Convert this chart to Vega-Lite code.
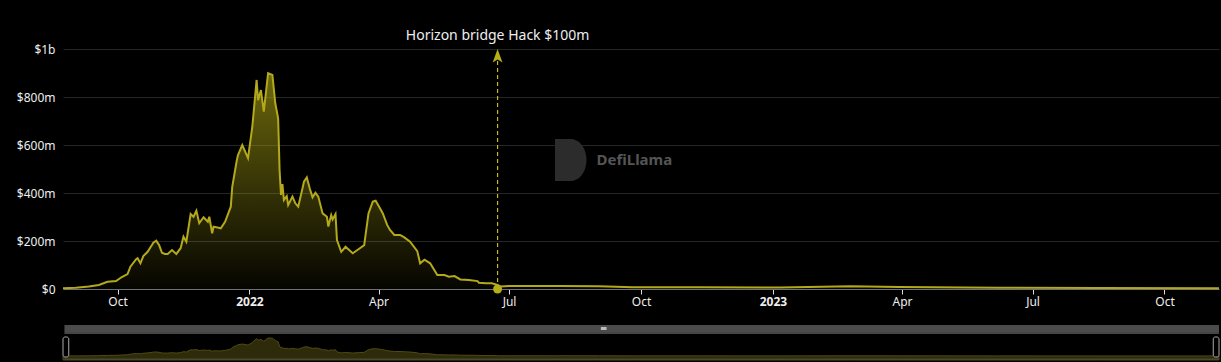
{
  "$schema": "https://vega.github.io/schema/vega-lite/v6.json",
  "autosize": {"type": "pad"},
  "padding": {"left": 16, "top": 29, "right": 2, "bottom": 2},
  "background": "#000000",
  "config": {"view": {"stroke": null}, "font": "Noto Sans"},
  "spacing": 36,
  "bounds": "flush",
  "datasets": {
    "tvl": [
      {"date": "2021-08-24", "tvl": 3},
      {"date": "2021-09-02", "tvl": 5},
      {"date": "2021-09-11", "tvl": 10},
      {"date": "2021-09-18", "tvl": 17},
      {"date": "2021-09-24", "tvl": 30},
      {"date": "2021-09-30", "tvl": 33},
      {"date": "2021-10-04", "tvl": 50},
      {"date": "2021-10-08", "tvl": 62},
      {"date": "2021-10-10", "tvl": 93},
      {"date": "2021-10-14", "tvl": 124},
      {"date": "2021-10-15", "tvl": 128},
      {"date": "2021-10-17", "tvl": 107},
      {"date": "2021-10-19", "tvl": 137},
      {"date": "2021-10-22", "tvl": 155},
      {"date": "2021-10-25", "tvl": 183},
      {"date": "2021-10-26", "tvl": 193},
      {"date": "2021-10-28", "tvl": 201},
      {"date": "2021-10-30", "tvl": 183},
      {"date": "2021-11-01", "tvl": 151},
      {"date": "2021-11-03", "tvl": 146},
      {"date": "2021-11-05", "tvl": 146},
      {"date": "2021-11-08", "tvl": 162},
      {"date": "2021-11-11", "tvl": 146},
      {"date": "2021-11-14", "tvl": 170},
      {"date": "2021-11-16", "tvl": 218},
      {"date": "2021-11-18", "tvl": 197},
      {"date": "2021-11-21", "tvl": 312},
      {"date": "2021-11-23", "tvl": 301},
      {"date": "2021-11-25", "tvl": 326},
      {"date": "2021-11-27", "tvl": 274},
      {"date": "2021-11-30", "tvl": 299},
      {"date": "2021-12-03", "tvl": 280},
      {"date": "2021-12-04", "tvl": 301},
      {"date": "2021-12-06", "tvl": 232},
      {"date": "2021-12-07", "tvl": 260},
      {"date": "2021-12-12", "tvl": 253},
      {"date": "2021-12-15", "tvl": 280},
      {"date": "2021-12-19", "tvl": 343},
      {"date": "2021-12-20", "tvl": 426},
      {"date": "2021-12-23", "tvl": 530},
      {"date": "2021-12-24", "tvl": 558},
      {"date": "2021-12-27", "tvl": 600},
      {"date": "2021-12-31", "tvl": 545},
      {"date": "2022-01-03", "tvl": 676},
      {"date": "2022-01-06", "tvl": 871},
      {"date": "2022-01-07", "tvl": 787},
      {"date": "2022-01-09", "tvl": 829},
      {"date": "2022-01-11", "tvl": 739},
      {"date": "2022-01-14", "tvl": 899},
      {"date": "2022-01-17", "tvl": 892},
      {"date": "2022-01-19", "tvl": 774},
      {"date": "2022-01-21", "tvl": 711},
      {"date": "2022-01-22", "tvl": 496},
      {"date": "2022-01-23", "tvl": 392},
      {"date": "2022-01-24", "tvl": 437},
      {"date": "2022-01-25", "tvl": 371},
      {"date": "2022-01-27", "tvl": 387},
      {"date": "2022-01-28", "tvl": 350},
      {"date": "2022-01-31", "tvl": 385},
      {"date": "2022-02-02", "tvl": 357},
      {"date": "2022-02-04", "tvl": 343},
      {"date": "2022-02-07", "tvl": 420},
      {"date": "2022-02-08", "tvl": 447},
      {"date": "2022-02-10", "tvl": 465},
      {"date": "2022-02-12", "tvl": 420},
      {"date": "2022-02-14", "tvl": 382},
      {"date": "2022-02-16", "tvl": 401},
      {"date": "2022-02-18", "tvl": 385},
      {"date": "2022-02-21", "tvl": 315},
      {"date": "2022-02-24", "tvl": 301},
      {"date": "2022-02-25", "tvl": 260},
      {"date": "2022-02-27", "tvl": 308},
      {"date": "2022-02-28", "tvl": 290},
      {"date": "2022-03-02", "tvl": 312},
      {"date": "2022-03-03", "tvl": 204},
      {"date": "2022-03-06", "tvl": 155},
      {"date": "2022-03-09", "tvl": 176},
      {"date": "2022-03-14", "tvl": 149},
      {"date": "2022-03-19", "tvl": 170},
      {"date": "2022-03-22", "tvl": 183},
      {"date": "2022-03-25", "tvl": 315},
      {"date": "2022-03-28", "tvl": 364},
      {"date": "2022-03-30", "tvl": 368},
      {"date": "2022-04-02", "tvl": 336},
      {"date": "2022-04-04", "tvl": 315},
      {"date": "2022-04-07", "tvl": 267},
      {"date": "2022-04-09", "tvl": 246},
      {"date": "2022-04-12", "tvl": 225},
      {"date": "2022-04-16", "tvl": 225},
      {"date": "2022-04-19", "tvl": 215},
      {"date": "2022-04-23", "tvl": 197},
      {"date": "2022-04-28", "tvl": 158},
      {"date": "2022-04-30", "tvl": 107},
      {"date": "2022-05-03", "tvl": 122},
      {"date": "2022-05-07", "tvl": 107},
      {"date": "2022-05-12", "tvl": 58},
      {"date": "2022-05-17", "tvl": 58},
      {"date": "2022-05-20", "tvl": 51},
      {"date": "2022-05-24", "tvl": 54},
      {"date": "2022-05-28", "tvl": 40},
      {"date": "2022-06-03", "tvl": 37},
      {"date": "2022-06-09", "tvl": 33},
      {"date": "2022-06-10", "tvl": 26},
      {"date": "2022-06-15", "tvl": 24},
      {"date": "2022-06-19", "tvl": 24},
      {"date": "2022-06-23", "tvl": 17},
      {"date": "2022-06-25", "tvl": 10},
      {"date": "2022-07-01", "tvl": 12},
      {"date": "2022-08-05", "tvl": 12},
      {"date": "2022-09-02", "tvl": 11},
      {"date": "2022-09-25", "tvl": 7},
      {"date": "2022-11-11", "tvl": 7},
      {"date": "2023-01-06", "tvl": 6},
      {"date": "2023-02-24", "tvl": 11},
      {"date": "2023-03-30", "tvl": 8},
      {"date": "2023-06-07", "tvl": 5},
      {"date": "2023-08-16", "tvl": 4},
      {"date": "2023-11-08", "tvl": 3}
    ]
  },
  "vconcat": [
    {
      "width": 1156,
      "height": 240,
      "layer": [
        {
          "data": {"name": "tvl"},
          "mark": {
            "type": "area",
            "interpolate": "linear",
            "color": {
              "gradient": "linear",
              "x1": 0, "y1": 0, "x2": 0, "y2": 1,
              "stops": [
                {"offset": 0, "color": "rgba(175,168,20,0.62)"},
                {"offset": 1, "color": "rgba(175,168,20,0.03)"}
              ]
            }
          },
          "encoding": {
            "x": {
              "field": "date", "type": "temporal", "title": null,
              "scale": {"domain": [{"year": 2021, "month": 8, "date": 24}, {"year": 2023, "month": 11, "date": 8}]},
              "axis": {
                "values": [
                  {"year": 2021, "month": 10, "date": 1},
                  {"year": 2022, "month": 1, "date": 1},
                  {"year": 2022, "month": 4, "date": 1},
                  {"year": 2022, "month": 7, "date": 1},
                  {"year": 2022, "month": 10, "date": 1},
                  {"year": 2023, "month": 1, "date": 1},
                  {"year": 2023, "month": 4, "date": 1},
                  {"year": 2023, "month": 7, "date": 1},
                  {"year": 2023, "month": 10, "date": 1}
                ],
                "labelExpr": "month(datum.value)==0 ? timeFormat(datum.value,'%Y') : timeFormat(datum.value,'%b')",
                "labelFontWeight": {"condition": {"test": "month(datum.value)==0", "value": "bold"}, "value": "normal"},
                "grid": false,
                "domainColor": "#6e7079",
                "tickColor": "#dddddd",
                "tickSize": 5,
                "labelColor": "#eeeeee",
                "labelFontSize": 12,
                "labelPadding": 2
              }
            },
            "y": {
              "field": "tvl", "type": "quantitative", "title": null,
              "scale": {"domain": [0, 1000], "nice": false},
              "axis": {
                "values": [0, 200, 400, 600, 800, 1000],
                "labelExpr": "datum.value==0 ? '$0' : (datum.value>=1000 ? '$1b' : '$' + datum.value + 'm')",
                "grid": true,
                "gridColor": "#262626",
                "domain": false,
                "ticks": false,
                "labelPadding": 8,
                "labelFontSize": 12,
                "labelColor": "#eeeeee"
              }
            }
          }
        },
        {
          "data": {"name": "tvl"},
          "mark": {"type": "line", "color": "#b3a91b", "strokeWidth": 2, "interpolate": "linear"},
          "encoding": {
            "x": {"field": "date", "type": "temporal", "title": null},
            "y": {"field": "tvl", "type": "quantitative", "title": null}
          }
        },
        {
          "data": {"values": [{"brand": "DefiLlama"}]},
          "mark": {"type": "point", "shape": "M-0.75,-1L0,-1A0.75,1 0 0 1 0,1L-0.75,1Z", "filled": true, "size": 1764, "color": "#2c2c2c", "opacity": 1},
          "encoding": {
            "x": {"datum": {"year": 2022, "month": 8, "date": 13}, "type": "temporal", "title": null},
            "y": {"datum": 537, "type": "quantitative", "title": null}
          }
        },
        {
          "data": {"values": [{"brand": "DefiLlama"}]},
          "mark": {"type": "text", "align": "left", "baseline": "middle", "fontSize": 15, "fontWeight": "bold", "color": "#555555"},
          "encoding": {
            "x": {"datum": {"year": 2022, "month": 8, "date": 31}, "type": "temporal", "title": null},
            "y": {"datum": 537, "type": "quantitative", "title": null},
            "text": {"field": "brand"}
          }
        },
        {
          "data": {"values": [{"event": "Horizon bridge Hack $100m"}]},
          "mark": {"type": "rule", "color": "#c4b826", "strokeWidth": 1.2, "strokeDash": [4, 3]},
          "encoding": {
            "x": {"datum": {"year": 2022, "month": 6, "date": 23}, "type": "temporal", "title": null},
            "y": {"datum": 0, "type": "quantitative", "title": null},
            "y2": {"datum": 962}
          }
        },
        {
          "data": {"values": [{"event": "Horizon bridge Hack $100m"}]},
          "mark": {"type": "point", "shape": "M0,-1L0.7,0.95L0,0.5L-0.7,0.95Z", "filled": true, "size": 196, "color": "#b5ad1a", "opacity": 1},
          "encoding": {
            "x": {"datum": {"year": 2022, "month": 6, "date": 23}, "type": "temporal", "title": null},
            "y": {"datum": 971, "type": "quantitative", "title": null}
          }
        },
        {
          "data": {"values": [{"event": "Horizon bridge Hack $100m"}]},
          "mark": {"type": "point", "shape": "circle", "filled": true, "size": 80, "color": "#b5ad1a", "opacity": 1},
          "encoding": {
            "x": {"datum": {"year": 2022, "month": 6, "date": 23}, "type": "temporal", "title": null},
            "y": {"datum": 0, "type": "quantitative", "title": null}
          }
        },
        {
          "data": {"values": [{"event": "Horizon bridge Hack $100m"}]},
          "mark": {"type": "text", "align": "center", "baseline": "middle", "fontSize": 14, "color": "#eeeeee"},
          "encoding": {
            "x": {"datum": {"year": 2022, "month": 6, "date": 23}, "type": "temporal", "title": null},
            "y": {"datum": 1054, "type": "quantitative", "title": null},
            "text": {"field": "event"}
          }
        }
      ]
    },
    {
      "width": 1156,
      "height": 35,
      "layer": [
        {
          "data": {"values": [{"part": "band"}]},
          "mark": {"type": "rect", "color": "#4b4b4b"},
          "encoding": {
            "x": {"datum": {"year": 2021, "month": 8, "date": 25}, "type": "temporal", "axis": null,
                  "scale": {"domain": [{"year": 2021, "month": 8, "date": 24}, {"year": 2023, "month": 11, "date": 8}]}},
            "x2": {"datum": {"year": 2023, "month": 11, "date": 8}},
            "y": {"datum": 1550, "type": "quantitative", "axis": null, "scale": {"domain": [-200, 1550], "nice": false, "zero": false}},
            "y2": {"datum": 1200}
          }
        },
        {
          "data": {"values": [{"part": "bandline"}]},
          "mark": {"type": "rule", "color": "#8a8a8a", "strokeWidth": 1},
          "encoding": {
            "x": {"datum": {"year": 2021, "month": 8, "date": 25}, "type": "temporal", "axis": null},
            "x2": {"datum": {"year": 2023, "month": 11, "date": 8}},
            "y": {"datum": 1150, "type": "quantitative", "axis": null}
          }
        },
        {
          "data": {"name": "tvl"},
          "mark": {"type": "area", "color": "#2d2b09", "stroke": "#4f4a14", "strokeWidth": 1, "interpolate": "linear"},
          "encoding": {
            "x": {"field": "date", "type": "temporal", "axis": null},
            "y": {"field": "tvl", "type": "quantitative", "axis": null},
            "y2": {"datum": -200}
          }
        },
        {
          "data": {"values": [{"part": "bottom"}]},
          "mark": {"type": "rule", "color": "#4a4830", "strokeWidth": 1.5},
          "encoding": {
            "x": {"datum": {"year": 2021, "month": 8, "date": 25}, "type": "temporal", "axis": null},
            "x2": {"datum": {"year": 2023, "month": 11, "date": 8}},
            "y": {"datum": -160, "type": "quantitative", "axis": null}
          }
        },
        {
          "data": {"values": [{"part": "icon"}]},
          "mark": {"type": "rect", "color": "#bbbbbb"},
          "encoding": {
            "x": {"datum": {"year": 2022, "month": 9, "date": 3}, "type": "temporal", "axis": null},
            "x2": {"datum": {"year": 2022, "month": 9, "date": 7}},
            "y": {"datum": 1450, "type": "quantitative", "axis": null},
            "y2": {"datum": 1300}
          }
        },
        {
          "data": {"values": [
            {"start": "2021-08-24", "end": "2021-08-28"},
            {"start": "2023-11-04", "end": "2023-11-08"}
          ]},
          "mark": {"type": "rect", "fill": "#000000", "stroke": "#aaaaaa", "strokeWidth": 1, "cornerRadius": 2},
          "encoding": {
            "x": {"field": "start", "type": "temporal", "axis": null},
            "x2": {"field": "end"},
            "y": {"datum": 950, "type": "quantitative", "axis": null},
            "y2": {"datum": -50}
          }
        }
      ]
    }
  ]
}
